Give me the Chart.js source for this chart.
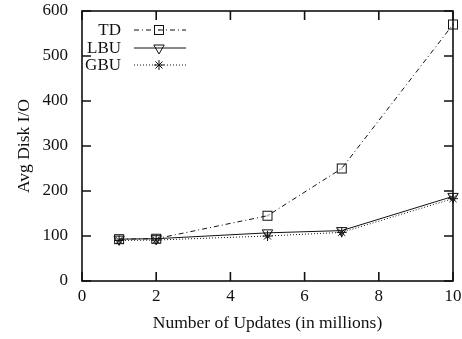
<!DOCTYPE html>
<html>
<head>
<meta charset="utf-8">
<script src="https://cdn.jsdelivr.net/npm/chart.js@4/dist/chart.umd.min.js"></script>
<style>
  html, body { margin: 0; padding: 0; background: #fff; }
  #wrap { width: 462px; height: 339px; }
</style>
</head>
<body>
<div id="wrap"><canvas id="c" width="462" height="339"></canvas></div>
<script>
// Average disk I/O per update strategy, by number of updates (millions)
const updates = [1, 2, 5, 7, 10];
const tdIO  = [93, 94, 145, 250, 570];
const lbuIO = [93, 94, 107, 112, 188];
const gbuIO = [90, 91, 100, 108, 183];
const seriesNames = ['TD', 'LBU', 'GBU'];
const xTicks = [0, 2, 4, 6, 8, 10];
const yTicks = [0, 100, 200, 300, 400, 500, 600];

const FONT = 'Liberation Serif, "Times New Roman", Times, serif';
const INK = '#111';

// open box with a centre dot
function boxMarker() {
  const c = document.createElement('canvas');
  c.width = 12; c.height = 12;
  const g = c.getContext('2d');
  g.strokeStyle = INK; g.lineWidth = 1;
  g.strokeRect(1.5, 1.5, 9, 9);
  g.fillStyle = INK;
  g.fillRect(5.5, 5.5, 1, 1);
  return c;
}
const box = boxMarker();

const toXY = (vals) => vals.map((v, i) => ({x: updates[i], y: v}));

const datasets = [
  { label: seriesNames[0], data: toXY(tdIO), borderColor: INK, borderWidth: 1,
    borderDash: [5, 3, 1, 3], pointStyle: box, pointRadius: 6,
    pointBackgroundColor: 'rgba(0,0,0,0)', pointBorderColor: INK },
  { label: seriesNames[1], data: toXY(lbuIO), borderColor: INK, borderWidth: 1,
    borderDash: [], pointStyle: 'triangle', pointRotation: 180, pointRadius: 6,
    pointBorderWidth: 1, pointBackgroundColor: 'rgba(0,0,0,0)', pointBorderColor: INK },
  { label: seriesNames[2], data: toXY(gbuIO), borderColor: INK, borderWidth: 1,
    borderDash: [1, 2], pointStyle: 'star', pointRadius: 5,
    pointBorderWidth: 1, pointBackgroundColor: 'rgba(0,0,0,0)', pointBorderColor: INK }
];

// frame, inward ticks on all four sides, and the key in the upper-left corner
const framePlugin = {
  id: 'frame',
  afterDatasetsDraw(chart) {
    const {ctx, chartArea: a, scales: {x, y}} = chart;
    const T = 9;
    ctx.save();
    ctx.strokeStyle = INK;
    ctx.lineWidth = 1.6;
    ctx.strokeRect(a.left, a.top, a.right - a.left, a.bottom - a.top);
    ctx.beginPath();
    xTicks.forEach(v => {
      const px = x.getPixelForValue(v);
      ctx.moveTo(px, a.bottom); ctx.lineTo(px, a.bottom - T);
      ctx.moveTo(px, a.top); ctx.lineTo(px, a.top + T);
    });
    yTicks.forEach(v => {
      const py = y.getPixelForValue(v);
      ctx.moveTo(a.left, py); ctx.lineTo(a.left + T, py);
      ctx.moveTo(a.right, py); ctx.lineTo(a.right - T, py);
    });
    ctx.stroke();

    // key
    const rows = [30, 48, 65];
    const textRight = 121, lineL = 134, lineR = 186, mark = 159;
    ctx.font = '17px ' + FONT;
    ctx.textAlign = 'right';
    ctx.textBaseline = 'middle';
    ctx.fillStyle = INK;
    chart.data.datasets.forEach((ds, i) => {
      const yy = rows[i];
      ctx.fillText(ds.label, textRight, yy + 1);
      ctx.save();
      ctx.lineWidth = ds.borderWidth;
      ctx.setLineDash(ds.borderDash || []);
      ctx.beginPath();
      ctx.moveTo(lineL, yy); ctx.lineTo(lineR, yy);
      ctx.stroke();
      ctx.restore();
      ctx.save();
      ctx.setLineDash([]);
      ctx.lineWidth = 1;
      ctx.fillStyle = 'rgba(0,0,0,0)';
      Chart.helpers.drawPoint(ctx, {
        pointStyle: ds.pointStyle, rotation: ds.pointRotation || 0,
        radius: ds.pointRadius, borderWidth: 1
      }, mark, yy);
      ctx.restore();
    });
    ctx.restore();
  }
};

new Chart(document.getElementById('c'), {
  type: 'line',
  data: { datasets },
  options: {
    responsive: false,
    animation: false,
    devicePixelRatio: 1,
    layout: { padding: { top: 11, right: 9, left: 0, bottom: 0 } },
    elements: { line: { tension: 0 } },
    datasets: { line: { clip: false } },
    plugins: { legend: { display: false }, tooltip: { enabled: false } },
    scales: {
      x: {
        type: 'linear', min: 0, max: 10,
        afterBuildTicks: (s) => { s.ticks = xTicks.map(v => ({value: v})); },
        afterFit: (s) => { s.height = 58; s.paddingLeft = 0; s.paddingRight = 0; },
        grid: { display: false, drawTicks: false }, border: { display: false },
        ticks: { color: INK, font: { family: FONT, size: 17 }, padding: 5, maxRotation: 0 },
        title: { display: true, text: 'Number of Updates (in millions)', color: INK,
                 font: { family: FONT, size: 17.5 }, padding: { top: 0, bottom: 5 } }
      },
      y: {
        type: 'linear', min: 0, max: 600,
        afterBuildTicks: (s) => { s.ticks = yTicks.map(v => ({value: v})); },
        afterFit: (s) => { s.width = 82; s.paddingTop = 0; s.paddingBottom = 0; },
        grid: { display: false, drawTicks: false }, border: { display: false },
        ticks: { color: INK, font: { family: FONT, size: 17 }, padding: 14 },
        title: { display: true, text: 'Avg Disk I/O', color: INK,
                 font: { family: FONT, size: 17.5 }, padding: { top: 14, bottom: 0 } }
      }
    }
  },
  plugins: [framePlugin]
});
</script>
</body>
</html>
